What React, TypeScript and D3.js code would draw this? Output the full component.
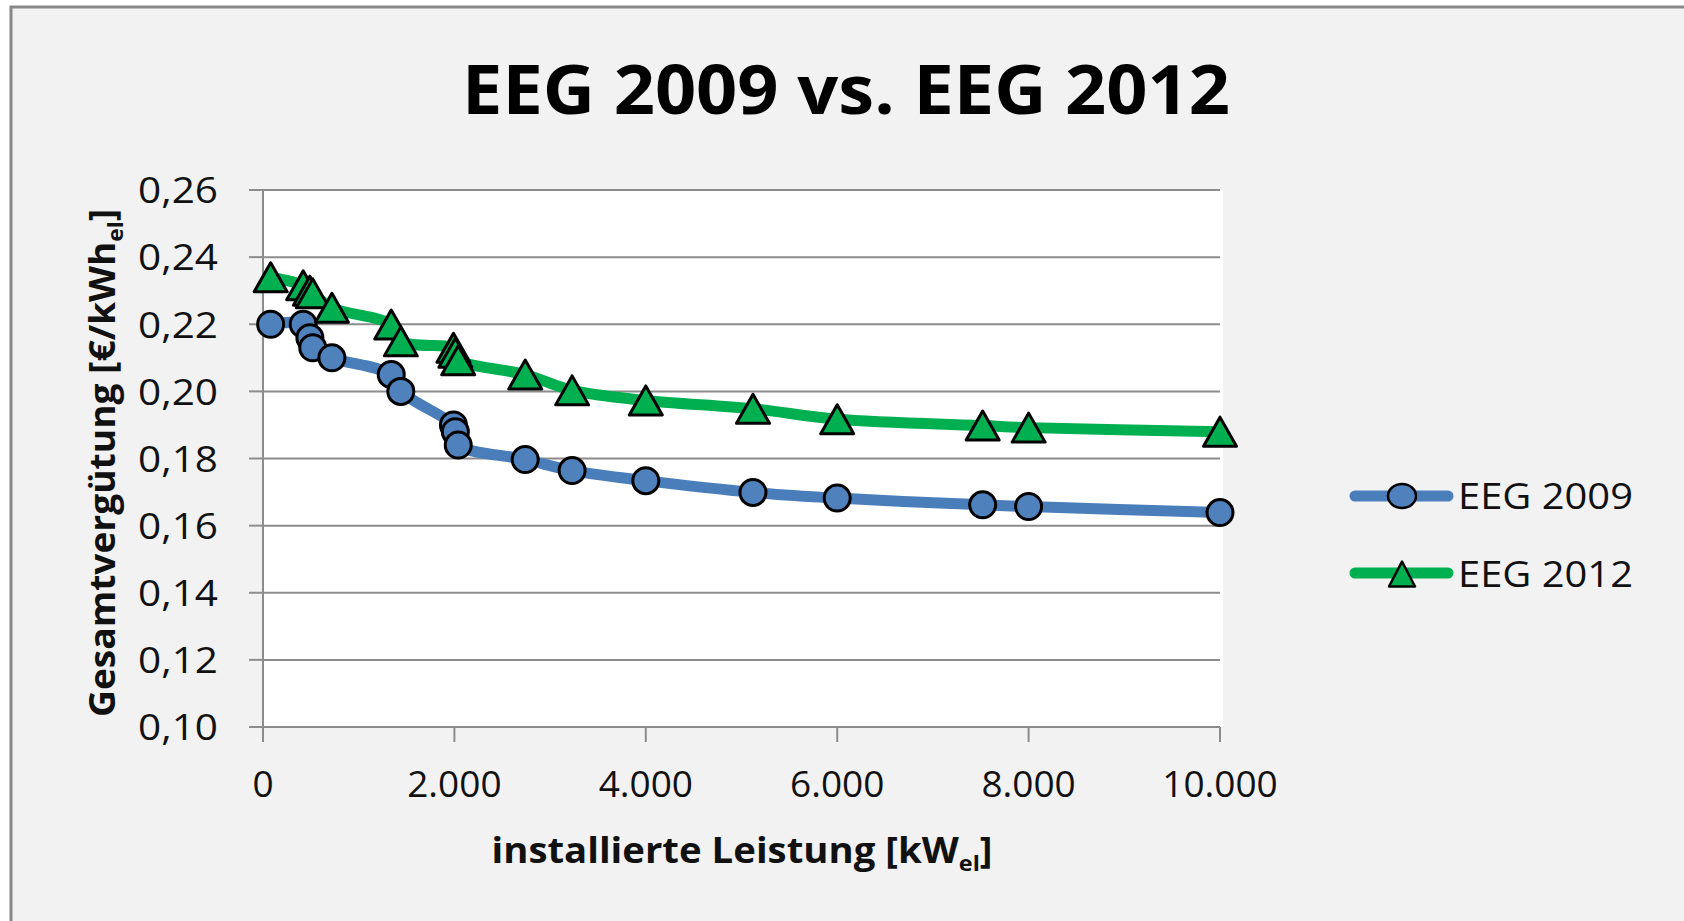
import React from "react";
import * as d3 from "d3";

const capacity = [80, 420, 490, 520, 720, 1340, 1440, 1990, 2010, 2040, 2740, 3230, 4000, 5120, 6000, 7520, 8000, 10000];
const eeg2009 = [0.220, 0.220, 0.216, 0.213, 0.210, 0.205, 0.200, 0.190, 0.188, 0.184, 0.1797, 0.1764, 0.1734, 0.1699, 0.1682, 0.1662, 0.1657, 0.1639];
const eeg2012 = [0.234, 0.2316, 0.2300, 0.2292, 0.2249, 0.2199, 0.2149, 0.2130, 0.2115, 0.2093, 0.2050, 0.2003, 0.1973, 0.1948, 0.1917, 0.1898, 0.1892, 0.1880];
const xTicks = [0, 2000, 4000, 6000, 8000, 10000];
const yTicks = [0.10, 0.12, 0.14, 0.16, 0.18, 0.20, 0.22, 0.24, 0.26];
const seriesNames = ["EEG 2009", "EEG 2012"];

const W = 1684;
const H = 921;
const plot = { left: 263, right: 1220, top: 190, bottom: 727 };
const BLUE_LINE = "#4a7ebb";
const BLUE_FILL = "#4f81bd";
const GREEN = "#00b050";
const AXIS = "#8c8c8c";
const FONT = "'Open Sans', 'DejaVu Sans', sans-serif";

const fmtX = (v: number) => (v === 0 ? "0" : d3.format(",")(v).replace(/,/g, "."));
const fmtY = (v: number) => v.toFixed(2).replace(".", ",");

export default function App() {
  const x = d3.scaleLinear().domain([0, 10000]).range([plot.left, plot.right]);
  const y = d3.scaleLinear().domain([0.1, 0.26]).range([plot.bottom, plot.top]);

  const line = d3
    .line<[number, number]>()
    .x((d) => x(d[0]))
    .y((d) => y(d[1]))
    .curve(d3.curveCatmullRom.alpha(0.5));

  const pts09: [number, number][] = capacity.map((c, i) => [c, eeg2009[i]]);
  const pts12: [number, number][] = capacity.map((c, i) => [c, eeg2012[i]]);

  const tri = (cx: number, cy: number, w: number, h: number) =>
    `M${cx},${cy - h / 2} L${cx + w / 2},${cy + h / 2} L${cx - w / 2},${cy + h / 2} Z`;

  return (
    <svg
      width={W}
      height={H}
      style={{ position: "absolute", left: 0, top: 0, display: "block" }}
      xmlns="http://www.w3.org/2000/svg"
    >
      <rect x={0} y={0} width={W} height={H} fill="#ffffff" />
      <rect x={11} y={7} width={W + 20} height={H + 20} fill="#f2f2f2" stroke="#888888" strokeWidth={3} />

      <text
        x={846}
        y={114}
        textAnchor="middle"
        fontFamily={FONT}
        fontWeight={700}
        fontSize={68}
        textLength={768}
        lengthAdjust="spacingAndGlyphs"
        fill="#000"
      >
        EEG 2009 vs. EEG 2012
      </text>

      <rect x={plot.left} y={plot.top} width={plot.right - plot.left + 3} height={plot.bottom - plot.top} fill="#ffffff" />

      {yTicks.map((t) => (
        <g key={t}>
          <line x1={plot.left} x2={plot.right} y1={y(t)} y2={y(t)} stroke={AXIS} strokeWidth={2} />
          <line x1={plot.left - 14} x2={plot.left} y1={y(t)} y2={y(t)} stroke={AXIS} strokeWidth={2} />
          <text
            x={218}
            y={y(t)}
            dy="0.36em"
            textAnchor="end"
            fontFamily={FONT}
            fontSize={37}
            fill="#111"
            textLength={80}
            lengthAdjust="spacingAndGlyphs"
          >
            {fmtY(t)}
          </text>
        </g>
      ))}

      <line x1={plot.left} x2={plot.left} y1={plot.top} y2={plot.bottom + 14} stroke={AXIS} strokeWidth={2} />
      {xTicks.map((t) => (
        <g key={t}>
          <line x1={x(t)} x2={x(t)} y1={plot.bottom} y2={plot.bottom + 15} stroke={AXIS} strokeWidth={2} />
          <text
            x={x(t)}
            y={797}
            textAnchor="middle"
            fontFamily={FONT}
            fontSize={37}
            fill="#111"
          >
            {fmtX(t)}
          </text>
        </g>
      ))}

      <text
        x={742}
        y={863}
        textAnchor="middle"
        fontFamily={FONT}
        fontWeight={700}
        fontSize={36}
        fill="#111"
        textLength={501}
        lengthAdjust="spacingAndGlyphs"
      >
        installierte Leistung [kW<tspan fontSize={22} dy={8}>el</tspan>
        <tspan dy={-8}>]</tspan>
      </text>

      <text
        transform={`translate(115, 463) rotate(-90)`}
        textAnchor="middle"
        fontFamily={FONT}
        fontWeight={700}
        fontSize={36}
        fill="#111"
        textLength={508}
        lengthAdjust="spacingAndGlyphs"
      >
        Gesamtvergütung [€/kWh<tspan fontSize={22} dy={8}>el</tspan>
        <tspan dy={-8}>]</tspan>
      </text>

      <path d={line(pts12) || ""} fill="none" stroke={GREEN} strokeWidth={11} strokeLinejoin="round" strokeLinecap="round" />
      <path d={line(pts09) || ""} fill="none" stroke={BLUE_LINE} strokeWidth={11} strokeLinejoin="round" strokeLinecap="round" />

      {pts09.map((p, i) => (
        <circle key={"c" + i} cx={x(p[0])} cy={y(p[1])} r={13} fill={BLUE_FILL} stroke="#000" strokeWidth={3} />
      ))}
      {pts12.map((p, i) => (
        <path key={"t" + i} d={tri(x(p[0]), y(p[1]), 33, 29)} fill={GREEN} stroke="#000" strokeWidth={3} strokeLinejoin="round" />
      ))}

      {/* legend */}
      <g>
        <line x1={1355} x2={1448} y1={496} y2={496} stroke={BLUE_LINE} strokeWidth={11} strokeLinecap="round" />
        <ellipse cx={1402} cy={496} rx={14} ry={12} fill={BLUE_FILL} stroke="#000" strokeWidth={2.5} />
        <text x={1458} y={509} fontFamily={FONT} fontSize={37} fill="#111" textLength={175} lengthAdjust="spacingAndGlyphs">
          {seriesNames[0]}
        </text>
        <line x1={1355} x2={1448} y1={573} y2={573} stroke={GREEN} strokeWidth={11} strokeLinecap="round" />
        <path d={tri(1402, 574, 26, 25)} fill={GREEN} stroke="#000" strokeWidth={2.5} strokeLinejoin="round" />
        <text x={1458} y={587} fontFamily={FONT} fontSize={37} fill="#111" textLength={175} lengthAdjust="spacingAndGlyphs">
          {seriesNames[1]}
        </text>
      </g>
    </svg>
  );
}
